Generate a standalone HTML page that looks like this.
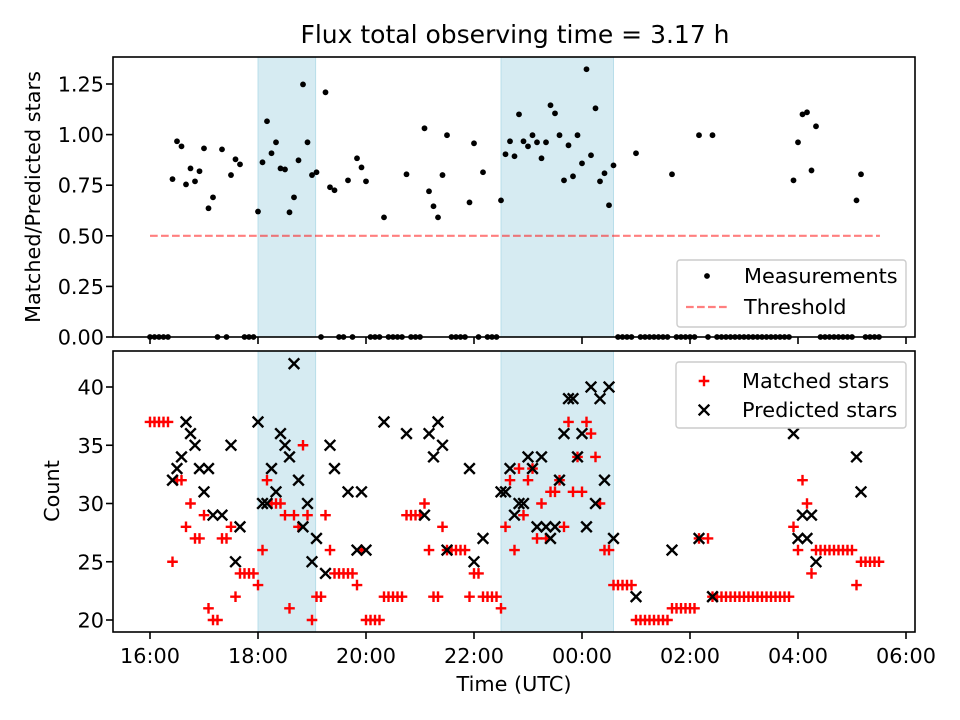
<!DOCTYPE html>
<html><head><meta charset="utf-8"><style>
html,body{margin:0;padding:0;background:#fff}
svg{display:block;font-family:"DejaVu Sans","Liberation Sans",sans-serif}
</style></head><body>
<svg id="chart" width="960" height="720" viewBox="0 0 960 720" xmlns="http://www.w3.org/2000/svg">
<rect width="960" height="720" fill="#fff"/>
<text x="515" y="43" font-size="25" text-anchor="middle">Flux total observing time = 3.17 h</text>
<g id="topPanel"></g><g id="bottomPanel"></g>
<text transform="translate(40,197) rotate(-90)" font-size="20.8" text-anchor="middle">Matched/Predicted stars</text>
<text transform="translate(59,491) rotate(-90)" font-size="20.8" text-anchor="middle">Count</text>
<text x="514" y="691" font-size="20.8" text-anchor="middle">Time (UTC)</text>
</svg>
<script>
const times=[0,5,10,15,20,25,30,35,40,45,50,55,60,65,70,75,80,85,90,95,100,105,110,115,120,125,130,135,140,145,150,155,160,165,170,175,180,185,190,195,200,205,210,215,220,225,230,235,240,245,250,255,260,265,270,275,280,285,290,295,300,305,310,315,320,325,330,335,340,345,350,355,360,365,370,375,380,385,390,395,400,405,410,415,420,425,430,435,440,445,450,455,460,465,470,475,480,485,490,495,500,505,510,515,520,525,530,535,540,545,550,555,560,565,570,575,580,585,590,595,600,605,610,620,625,630,635,640,645,650,655,660,665,670,675,680,685,690,695,700,705,710,715,720,725,730,735,740,745,750,755,760,765,770,775,780,785,790,795,800,805,810];
const ratio=[0,0,0,0,0,.78,.967,.942,.754,.833,.769,.819,.932,.636,.69,0,.927,0,.80,.878,.853,0,0,0,.62,.863,1.066,.908,.962,.833,.828,.616,.69,.873,1.248,.962,.80,.814,0,1.209,.74,.725,0,0,.774,0,.883,.838,.769,0,0,0,.591,0,0,0,0,.804,0,0,0,1.031,.72,.646,.591,.80,.997,0,0,0,0,.665,.957,0,.814,0,0,0,.675,.903,.967,.893,1.10,.967,.942,.997,.962,.883,.962,1.145,1.105,.997,.774,.947,.794,.997,.858,1.323,.898,1.13,.769,.809,.651,.848,0,0,0,0,.908,0,0,0,0,0,0,0,.804,0,0,0,0,0,.997,0,.997,0,0,0,0,0,0,0,0,0,0,0,0,0,0,0,0,0,.774,.962,1.10,1.11,.823,1.041,0,0,0,0,0,0,0,0,.675,.804,0,0,0,0];
const matched=[37,37,37,37,37,25,32,32,28,30,27,27,29,21,20,20,27,27,28,22,24,24,24,24,23,26,32,30,30,30,29,21,29,28,35,29,20,22,22,29,26,24,24,24,24,24,23,26,20,20,20,20,22,22,22,22,22,29,29,29,29,30,26,22,22,28,26,26,26,26,26,22,24,24,22,22,22,22,21,28,32,26,33,29,32,33,27,30,27,31,31,32,28,37,31,34,31,37,36,34,30,26,26,23,23,23,23,23,20,20,20,20,20,20,20,20,21,21,21,21,21,21,27,27,22,22,22,22,22,22,22,22,22,22,22,22,22,22,22,22,22,22,28,26,32,30,24,26,26,26,26,26,26,26,26,26,23,25,25,25,25,25];
const predicted=[null,null,null,null,null,32,33,34,37,36,35,33,31,33,29,null,29,null,35,25,28,null,null,null,37,30,30,33,31,36,35,34,42,32,28,30,25,27,null,24,35,33,null,null,31,null,26,31,26,null,null,null,37,null,null,null,null,36,null,null,null,29,36,34,37,35,26,null,null,null,null,33,25,null,27,null,null,null,31,31,33,29,30,30,34,33,28,34,28,27,28,32,36,39,39,34,36,28,40,30,39,32,40,27,null,null,null,null,22,null,null,null,null,null,null,null,26,null,null,null,null,null,27,null,22,null,null,null,null,null,null,null,null,null,null,null,null,null,null,null,null,null,36,27,29,27,29,25,null,null,null,null,null,null,null,null,34,31,null,null,null,null];
const shadeStart=[120,390];
const shadeEnd=[184,515];
const threshold=0.5;
const topTicks=[0,0.25,0.5,0.75,1.0,1.25];
const topTickLabels=["0.00","0.25","0.50","0.75","1.00","1.25"];
const botTicks=[20,25,30,35,40];
const xTicks=[0,120,240,360,480,600,720,840];
const xTickLabels=["16:00","18:00","20:00","22:00","00:00","02:00","04:00","06:00"];

const NS="http://www.w3.org/2000/svg";
const FS=20.8, M=5.3, SW=2.4;
const X=t=>150+t*0.9;
const YT=v=>337-v*202.4;
const YB=c=>620-(c-20)*11.65;
function mk(tag,attrs,parent){const e=document.createElementNS(NS,tag);for(const k in attrs)e.setAttribute(k,attrs[k]);parent.appendChild(e);return e;}
const topG=document.getElementById('topPanel'), botG=document.getElementById('bottomPanel');
const panels=[[topG,57,337],[botG,351,632]];
panels.forEach(([g,y0,y1],pi)=>{
  for(let i=0;i<shadeStart.length;i++){
    const r=mk('rect',{x:X(shadeStart[i]),y:y0,width:X(shadeEnd[i])-X(shadeStart[i]),height:y1-y0,fill:'rgba(173,216,230,0.5)',stroke:'rgba(173,216,230,0.8)','stroke-width':1},g);
    
    
  }
});
const th=mk('line',{x1:X(0),x2:X(811),y1:YT(threshold),y2:YT(threshold),stroke:'rgba(255,0,0,0.5)','stroke-width':2.2,'stroke-dasharray':'7.7,3.3'},topG);


for(let i=0;i<times.length;i++){
  const c=mk('circle',{cx:X(times[i]),cy:YT(ratio[i]),r:2.9,fill:'#000'},topG);
  
  
}
for(let i=0;i<times.length;i++){
  const x=X(times[i]),y=YB(matched[i]);
  const p=mk('path',{d:`M${x-M},${y}H${x+M}M${x},${y-M}V${y+M}`,stroke:'#f00','stroke-width':SW},botG);
  
  
}
for(let i=0;i<times.length;i++){
  if(predicted[i]===null||predicted[i]===undefined)continue;
  const x=X(times[i]),y=YB(predicted[i]);
  const p=mk('path',{d:`M${x-M},${y-M}L${x+M},${y+M}M${x-M},${y+M}L${x+M},${y-M}`,stroke:'#000','stroke-width':SW},botG);
  
  
}
panels.forEach(([g,y0,y1],pi)=>{
  const f=mk('rect',{x:113,y:y0,width:802,height:y1-y0,fill:'none',stroke:'#000','stroke-width':1.6},g);
  
  
  xTicks.forEach((t,i)=>{
    const l=mk('line',{x1:X(t),x2:X(t),y1:y1,y2:y1+7,stroke:'#000','stroke-width':1.6},g);
    
    
    if(pi===1){
      const tx=mk('text',{x:X(t),y:y1+31,'font-size':FS,'text-anchor':'middle'},g);
      tx.textContent=xTickLabels[i];
      
      
    }
  });
});
topTicks.forEach((v,i)=>{
  const l=mk('line',{x1:106,x2:113,y1:YT(v),y2:YT(v),stroke:'#000','stroke-width':1.6},topG);
  
  
  const tx=mk('text',{x:104,y:YT(v)+7.5,'font-size':FS,'text-anchor':'end'},topG);
  tx.textContent=topTickLabels[i];
  
  
});
botTicks.forEach(v=>{
  const l=mk('line',{x1:106,x2:113,y1:YB(v),y2:YB(v),stroke:'#000','stroke-width':1.6},botG);
  
  
  const tx=mk('text',{x:104,y:YB(v)+7.5,'font-size':FS,'text-anchor':'end'},botG);
  tx.textContent=String(v);
  
  
});
const lg1=mk('g',{},topG);


mk('rect',{x:677,y:260,width:229,height:67,rx:3,fill:'rgba(255,255,255,0.8)',stroke:'#ccc','stroke-width':1.4},lg1);
mk('circle',{cx:707,cy:276,r:2.9,fill:'#000'},lg1);
const t1=mk('text',{x:744,y:283,'font-size':FS},lg1);t1.textContent='Measurements';


mk('line',{x1:686,x2:727,y1:307,y2:307,stroke:'rgba(255,0,0,0.5)','stroke-width':2.2,'stroke-dasharray':'7.7,3.3'},lg1);
const t2=mk('text',{x:744,y:314,'font-size':FS},lg1);t2.textContent='Threshold';


const lg2=mk('g',{},botG);


mk('rect',{x:676,y:362,width:230,height:66,rx:3,fill:'rgba(255,255,255,0.8)',stroke:'#ccc','stroke-width':1.4},lg2);
mk('path',{d:`M${704-M},381H${704+M}M704,${381-M}V${381+M}`,stroke:'#f00','stroke-width':SW},lg2);
const t3=mk('text',{x:742,y:388,'font-size':FS},lg2);t3.textContent='Matched stars';


mk('path',{d:`M${704-M},${410-M}L${704+M},${410+M}M${704-M},${410+M}L${704+M},${410-M}`,stroke:'#000','stroke-width':SW},lg2);
const t4=mk('text',{x:742,y:417,'font-size':FS},lg2);t4.textContent='Predicted stars';


</script>
</body></html>
